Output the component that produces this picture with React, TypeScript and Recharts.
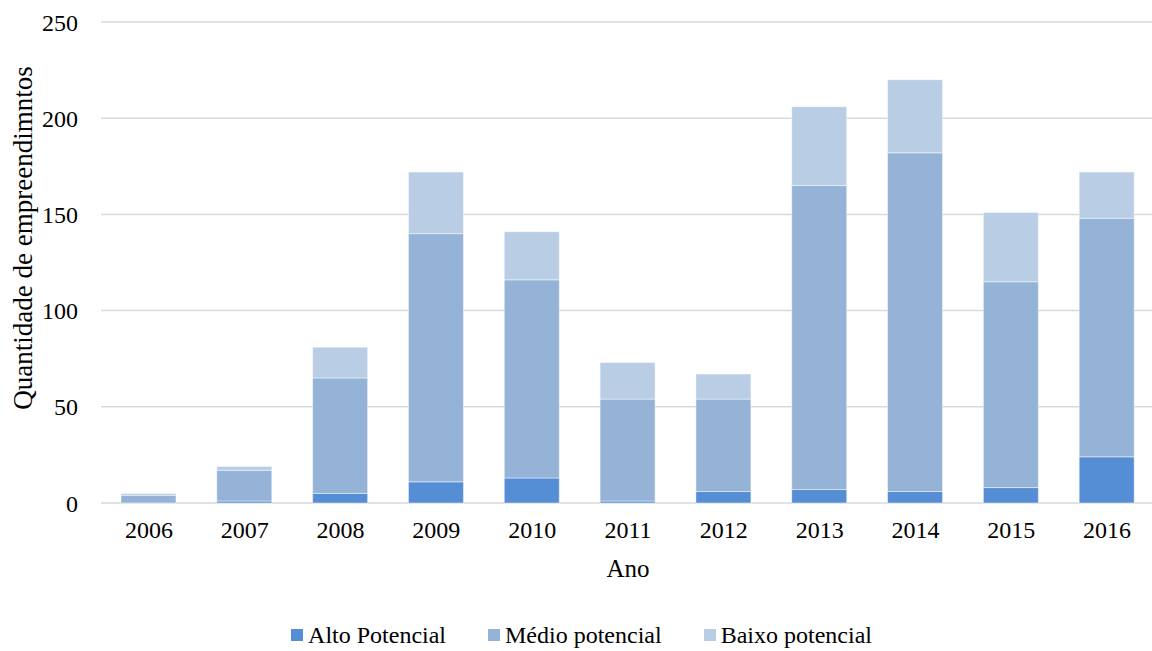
import { BarChart, Bar, XAxis, YAxis, CartesianGrid, Legend } from 'recharts';

const YEARS = ['2006', '2007', '2008', '2009', '2010', '2011', '2012', '2013', '2014', '2015', '2016'];
const ALTO = [0, 1, 5, 11, 13, 1, 6, 7, 6, 8, 24];
const MEDIO = [4, 16, 60, 129, 103, 53, 48, 158, 176, 107, 124];
const BAIXO = [1, 2, 16, 32, 25, 19, 13, 41, 38, 36, 24];
const Y_TICKS = [0, 50, 100, 150, 200, 250];

const COLORS = {
  alto: '#558ED5',
  medio: '#95B3D7',
  baixo: '#B9CDE5',
  grid: '#d9d9d9',
  edge: 'rgba(255,255,255,0.45)',
};

const LEGEND_ITEMS = [
  { label: 'Alto Potencial', color: COLORS.alto },
  { label: 'Médio potencial', color: COLORS.medio },
  { label: 'Baixo potencial', color: COLORS.baixo },
];

const FONT = '"Liberation Serif", "Times New Roman", serif';

const data = YEARS.map((year, i) => ({
  year,
  alto: ALTO[i],
  medio: MEDIO[i],
  baixo: BAIXO[i],
}));

// legenda centrata sull'intera area del grafico, come in Excel
const renderLegend = () => (
  <div
    style={{
      display: 'flex',
      justifyContent: 'center',
      alignItems: 'center',
      height: 40,
      paddingTop: 8,
      boxSizing: 'border-box',
      fontFamily: FONT,
      fontSize: 24,
      color: '#000',
      gap: 42,
    }}
  >
    {LEGEND_ITEMS.map((s) => (
      <div key={s.label} style={{ display: 'flex', alignItems: 'center' }}>
        <span style={{ width: 12, height: 12, background: s.color, marginRight: 5, display: 'inline-block' }} />
        <span>{s.label}</span>
      </div>
    ))}
  </div>
);

const yLabel = () => (
  <text
    x={23}
    y={238}
    transform="rotate(-90 23 238)"
    textAnchor="middle"
    dominantBaseline="central"
    fontFamily={FONT}
    fontSize={27}
    fill="#000"
  >
    Quantidade de empreendimntos
  </text>
);

export default function App() {
  return (
    <div style={{ position: 'absolute', left: 0, top: 0, width: 1152, height: 651, overflow: 'hidden', background: '#fff' }}>
      <BarChart
        width={1155}
        height={651}
        data={data}
        margin={{ top: 22, right: 0, left: 0, bottom: 0 }}
        barSize={55}
      >
        <CartesianGrid vertical={false} stroke={COLORS.grid} strokeWidth={1.5} />
        <XAxis
          dataKey="year"
          axisLine={false}
          tickLine={false}
          tickSize={0}
          tickMargin={18}
          height={108}
          tick={{ fill: '#000', fontSize: 24, fontFamily: FONT }}
          label={{ value: 'Ano', position: 'insideBottom', offset: 34, fill: '#000', fontSize: 25, fontFamily: FONT }}
        />
        <YAxis
          width={101}
          domain={[0, 250]}
          ticks={Y_TICKS}
          axisLine={false}
          tickLine={false}
          tickSize={0}
          tickMargin={23}
          tick={{ fill: '#000', fontSize: 24, fontFamily: FONT }}
          label={{ content: yLabel }}
        />
        <Legend
          verticalAlign="bottom"
          content={renderLegend}
          wrapperStyle={{ left: 0, width: 1163, height: 40 }}
        />
        <Bar dataKey="alto" name="Alto Potencial" stackId="a" fill={COLORS.alto} stroke={COLORS.edge} isAnimationActive={false} />
        <Bar dataKey="medio" name="Médio potencial" stackId="a" fill={COLORS.medio} stroke={COLORS.edge} isAnimationActive={false} />
        <Bar dataKey="baixo" name="Baixo potencial" stackId="a" fill={COLORS.baixo} stroke={COLORS.edge} isAnimationActive={false} />
      </BarChart>
    </div>
  );
}
